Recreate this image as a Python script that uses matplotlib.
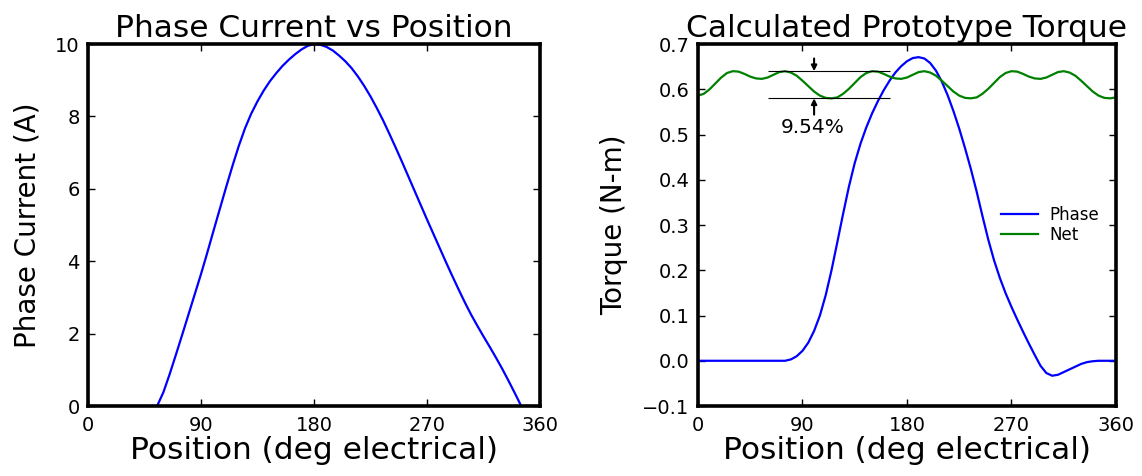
import matplotlib
matplotlib.use("Agg")
import matplotlib.pyplot as plt

# Position grid for every series (deg electrical)
position = list(range(0, 361, 5))

# Phase current (A) sampled at each position
phase_current = [
    0.0, 0.0, 0.0, 0.0, 0.0, 0.0, 0.0, 0.0, 0.0, 0.0, 0.0, 0.0,   # 0..55
    0.38, 0.88, 1.42, 1.97, 2.53, 3.09, 3.65, 4.24, 4.85, 5.45,    # 60..105
    6.05, 6.63, 7.18, 7.67, 8.08, 8.42, 8.72, 8.98, 9.20, 9.40,    # 110..155
    9.57, 9.72, 9.85, 9.95, 10.0, 9.98, 9.92, 9.82, 9.68, 9.52,    # 160..205
    9.33, 9.10, 8.84, 8.55, 8.23, 7.89, 7.52, 7.14, 6.75, 6.35,    # 210..255
    5.95, 5.55, 5.15, 4.76, 4.37, 3.98, 3.60, 3.23, 2.87, 2.53,    # 260..305
    2.22, 1.92, 1.63, 1.33, 1.02, 0.69, 0.35, 0.0, 0.0, 0.0,       # 310..355
    0.0,                                                           # 360
]

# Single-phase torque (N-m)
phase_torque = [
    0.0, 0.0, 0.0, 0.0, 0.0, 0.0, 0.0, 0.0, 0.0, 0.0, 0.0, 0.0,   # 0..55
    0.0, 0.0, 0.0, 0.0, 0.003, 0.010, 0.022, 0.040, 0.066, 0.100,  # 60..105
    0.145, 0.200, 0.262, 0.325, 0.385, 0.437, 0.480, 0.516, 0.547, 0.574,  # 110..155
    0.598, 0.619, 0.637, 0.651, 0.662, 0.669, 0.671, 0.668, 0.658, 0.641,  # 160..205
    0.617, 0.587, 0.552, 0.513, 0.470, 0.424, 0.374, 0.320, 0.268, 0.222,  # 210..255
    0.183, 0.149, 0.119, 0.091, 0.064, 0.038, 0.013, -0.011, -0.027, -0.033,  # 260..305
    -0.031, -0.025, -0.019, -0.013, -0.007, -0.003, -0.001, 0.0, 0.0, 0.0,  # 310..355
    0.0,                                                           # 360
]

# Net torque of all phases (N-m)
net_torque = [
    0.586, 0.590, 0.600, 0.613, 0.626, 0.636, 0.640, 0.639, 0.634, 0.628,  # 0..45
    0.624, 0.623, 0.626, 0.632, 0.638, 0.640, 0.637, 0.630, 0.619, 0.607,  # 50..95
    0.595, 0.586, 0.581, 0.580, 0.582, 0.590, 0.601, 0.614, 0.627, 0.636,  # 100..145
    0.640, 0.639, 0.634, 0.628, 0.624, 0.623, 0.626, 0.632, 0.638, 0.640,  # 150..195
    0.637, 0.630, 0.619, 0.607, 0.595, 0.586, 0.581, 0.580, 0.582, 0.590,  # 200..245
    0.601, 0.614, 0.627, 0.636, 0.640, 0.639, 0.634, 0.628, 0.624, 0.623,  # 250..295
    0.626, 0.632, 0.638, 0.640, 0.637, 0.630, 0.619, 0.607, 0.595, 0.586,  # 300..345
    0.581, 0.580, 0.582,                                                   # 350..360
]

ripple_max = 0.640
ripple_min = 0.580
ripple_label = "9.54%"

x_ticks = [0, 90, 180, 270, 360]
current_ticks = [0, 2, 4, 6, 8, 10]
torque_ticks = [-0.1, 0.0, 0.1, 0.2, 0.3, 0.4, 0.5, 0.6, 0.7]

plt.rcParams.update({
    "font.family": "DejaVu Sans",
    "xtick.direction": "in",
    "ytick.direction": "in",
    "xtick.top": True,
    "ytick.right": True,
    "xtick.major.size": 5,
    "ytick.major.size": 5,
    "xtick.major.width": 1,
    "ytick.major.width": 1,
    "xtick.major.pad": 7,
    "ytick.major.pad": 6,
    "axes.linewidth": 2.6,
    "xtick.labelsize": 14,
    "ytick.labelsize": 14,
})

fig = plt.figure(figsize=(11.42, 4.76), dpi=100, facecolor="white")
ax1 = fig.add_axes([0.0771, 0.147, 0.3958, 0.7605])
ax2 = fig.add_axes([0.6112, 0.147, 0.3660, 0.7605])

# Left: phase current
ax1.plot(position, phase_current, color="blue", lw=1.6)
ax1.set_xlim(0, 360)
ax1.set_ylim(0, 10)
ax1.set_xticks(x_ticks)
ax1.set_yticks(current_ticks)
ax1.set_title("Phase Current vs Position", fontsize=22.5, pad=5)
ax1.set_xlabel("Position (deg electrical)", fontsize=22.5, labelpad=1)
ax1.set_ylabel("Phase Current (A)", fontsize=20, labelpad=10)

# Right: torque
ax2.plot(position, phase_torque, color="blue", lw=1.6, label="Phase")
ax2.plot(position, net_torque, color="green", lw=1.6, label="Net")
ax2.set_xlim(0, 360)
ax2.set_ylim(-0.1, 0.7)
ax2.set_xticks(x_ticks)
ax2.set_yticks(torque_ticks)
ax2.set_title("Calculated Prototype Torque", fontsize=22.5, pad=5)
ax2.set_xlabel("Position (deg electrical)", fontsize=22.5, labelpad=1)
ax2.set_ylabel("Torque (N-m)", fontsize=20, labelpad=10)

# Ripple markers on the net torque
ax2.hlines([ripple_max, ripple_min], 60, 165, colors="black", lw=0.8)
arrow = dict(arrowstyle="-|>", color="black", lw=1.5, mutation_scale=8,
             shrinkA=0, shrinkB=0)
ax2.annotate("", xy=(100, ripple_max), xytext=(100, ripple_max + 0.028),
             arrowprops=arrow)
ax2.annotate("", xy=(100, ripple_min), xytext=(100, ripple_min - 0.036),
             arrowprops=arrow)
ax2.text(99, 0.515, ripple_label, fontsize=14.5, ha="center", va="center")

ax2.legend(loc="center right", frameon=False, fontsize=12,
           handlelength=2.2, handletextpad=0.7, labelspacing=0.1,
           borderaxespad=0.6)

fig.savefig("out.png", dpi=100, facecolor="white")
